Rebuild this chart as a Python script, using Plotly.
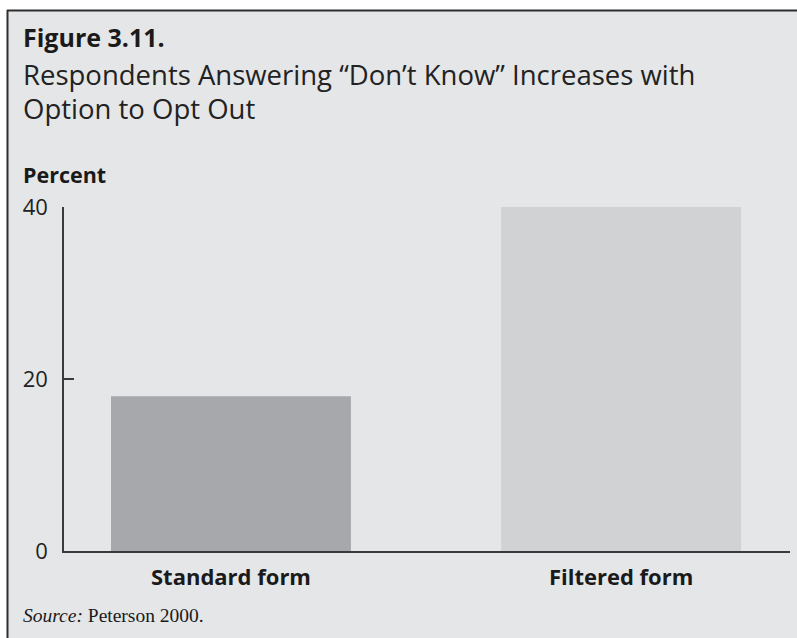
import plotly.graph_objects as go

# Survey forms and share of respondents answering "Don't know" (percent)
categories = ["Standard form", "Filtered form"]
values = [18, 40]
bar_colors = ["#a7a8ab", "#d1d2d4"]
y_ticks = [0, 20, 40]

W, H = 797, 638
L, R, T, B = 64, 7, 207, 87
PW, PH = W - L - R, H - T - B


def px(x):
    return (x - L) / PW


def py(y):
    return (H - B - y) / PH


SANS = "Open Sans"
INK = "#1a1a1a"
AXIS = "#3a3a3a"

fig = go.Figure(
    go.Bar(
        x=categories,
        y=values,
        marker=dict(color=bar_colors, line=dict(width=0)),
        width=0.615,
        hoverinfo="skip",
    )
)

shapes = [
    # light grey panel behind the whole figure
    dict(type="rect", xref="paper", yref="paper", layer="below",
         x0=px(7), x1=px(W + 5), y0=py(H + 5), y1=py(10),
         fillcolor="#e5e6e8", line=dict(width=0)),
    # frame: top and left rules
    dict(type="line", xref="paper", yref="paper",
         x0=px(7), x1=px(W + 5), y0=py(10.5), y1=py(10.5),
         line=dict(color="#2e2e2e", width=2)),
    dict(type="line", xref="paper", yref="paper",
         x0=px(7.5), x1=px(7.5), y0=py(10), y1=py(H + 5),
         line=dict(color="#2e2e2e", width=2)),
]

annotations = [
    dict(text="<b>Figure 3.11.</b>", x=px(21), y=py(37),
         font=dict(family=SANS, size=25, color=INK)),
    dict(text="Respondents Answering \u201cDon\u2019t Know\u201d Increases with",
         x=px(21), y=py(74), font=dict(family=SANS, size=27.5, color="#222")),
    dict(text="Option to Opt Out", x=px(21), y=py(109),
         font=dict(family=SANS, size=27.5, color="#222")),
    dict(text="<b>Percent</b>", x=px(21), y=py(174),
         font=dict(family=SANS, size=21.5, color=INK)),
    dict(text="<i>Source:</i> Peterson 2000.", x=px(21), y=py(615),
         font=dict(family="Liberation Serif", size=19.5, color=INK)),
]
for a in annotations:
    a.update(xref="paper", yref="paper", xanchor="left", yanchor="middle",
             showarrow=False)

fig.update_layout(
    width=W,
    height=H,
    margin=dict(l=L, r=R, t=T, b=B, pad=0),
    paper_bgcolor="white",
    plot_bgcolor="rgba(0,0,0,0)",
    showlegend=False,
    shapes=shapes,
    annotations=annotations,
    xaxis=dict(
        range=[-0.428, 1.433],
        showline=True, linecolor=AXIS, linewidth=2,
        ticks="", showgrid=False, zeroline=False,
        tickfont=dict(family=SANS, size=22, color=INK, weight="bold"),
        ticklabelstandoff=6,
    ),
    yaxis=dict(
        range=[0, 40],
        tickvals=y_ticks,
        showline=True, linecolor=AXIS, linewidth=1.5,
        ticks="inside", ticklen=10, tickwidth=1.5, tickcolor=AXIS,
        showgrid=False, zeroline=False,
        tickfont=dict(family=SANS, size=22, color="#222"),
        ticklabelstandoff=10,
    ),
)

fig.write_html("out.html")
